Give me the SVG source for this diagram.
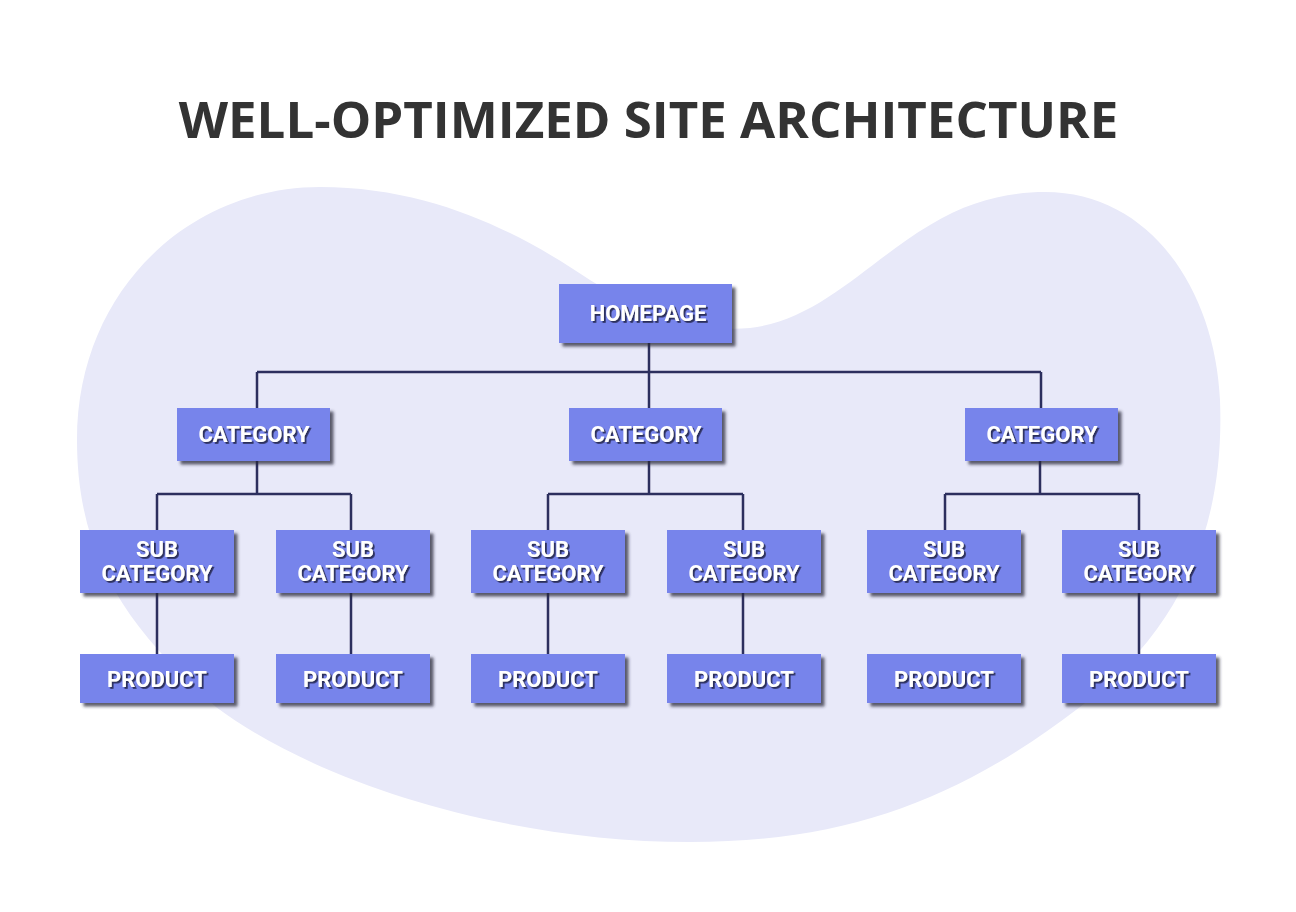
<svg xmlns="http://www.w3.org/2000/svg" width="1296" height="912" viewBox="0 0 1296 912">
  <defs>
    <filter id="boxShadow" x="-10%" y="-10%" width="130%" height="140%">
      <feDropShadow dx="3.5" dy="3.5" stdDeviation="1.5" flood-color="#2a2a3a" flood-opacity="0.75"/>
    </filter>
    <filter id="txtShadow" x="-10%" y="-20%" width="130%" height="150%">
      <feDropShadow dx="1.8" dy="1.8" stdDeviation="0.3" flood-color="#2b2e5c" flood-opacity="1"/>
    </filter>
  </defs>
  <style>
    .box { fill: #7784EB; filter: url(#boxShadow); }
    .lbl { font-family: Roboto, "Liberation Sans", sans-serif; font-weight: 700; font-size: 22px; fill: #ffffff; text-anchor: middle; filter: url(#txtShadow); }
    .conn { stroke: #2c2f5e; stroke-width: 2.5; fill: none; }
    .title { font-family: "Open Sans", "Liberation Sans", sans-serif; font-weight: 700; font-size: 51px; fill: #333333; text-anchor: middle; }
  </style>
  <rect x="0" y="0" width="1296" height="912" fill="#ffffff"/>
  <path id="blob" fill="#E8E9F9" d="M 77,440 C 77,290 190,187 320,187 C 440,187 530,240 590,280 C 650,318 700,332 750,328 C 820,320 870,260 930,225 C 970,200 1010,192 1045,192 C 1150,192 1215,290 1220,400 C 1225,530 1180,630 1080,707 C 961,798 850,842 690,842 C 510,842 320,785 216,707 C 130,630 77,560 77,440 Z"/>
  <text class="title" x="648.5" y="138">WELL-OPTIMIZED SITE ARCHITECTURE</text>

  <g id="connectors">
    <path class="conn" d="M649,343 V372 M257,372 H1041 M257,372 V408 M649,372 V408 M1041,372 V408"/>
    <path class="conn" d="M257,461 V494 M157,494 H351 M157,494 V530 M351,494 V530"/>
    <path class="conn" d="M649,461 V494 M548,494 H743 M548,494 V530 M743,494 V530"/>
    <path class="conn" d="M1040,461 V494 M945,494 H1139 M945,494 V530 M1139,494 V530"/>
    <path class="conn" d="M157,593 V654 M351,593 V654 M548,593 V654 M743,593 V654 M1139,593 V654"/>
  </g>

  <g id="homepage"><rect class="box" x="559" y="284" width="173" height="59"/><text class="lbl" x="648" y="321">HOMEPAGE</text></g>

  <g id="category-1"><rect class="box" x="177" y="408" width="153" height="53"/><text class="lbl" x="254" y="442">CATEGORY</text></g>
  <g id="category-2"><rect class="box" x="569" y="408" width="153" height="53"/><text class="lbl" x="646" y="442">CATEGORY</text></g>
  <g id="category-3"><rect class="box" x="965" y="408" width="153" height="53"/><text class="lbl" x="1042" y="442">CATEGORY</text></g>

  <g id="subcategory-1"><rect class="box" x="80" y="530" width="154" height="63"/><text class="lbl" x="157" y="557">SUB</text><text class="lbl" x="157" y="581">CATEGORY</text></g>
  <g id="subcategory-2"><rect class="box" x="276" y="530" width="154" height="63"/><text class="lbl" x="353" y="557">SUB</text><text class="lbl" x="353" y="581">CATEGORY</text></g>
  <g id="subcategory-3"><rect class="box" x="471" y="530" width="154" height="63"/><text class="lbl" x="548" y="557">SUB</text><text class="lbl" x="548" y="581">CATEGORY</text></g>
  <g id="subcategory-4"><rect class="box" x="667" y="530" width="154" height="63"/><text class="lbl" x="744" y="557">SUB</text><text class="lbl" x="744" y="581">CATEGORY</text></g>
  <g id="subcategory-5"><rect class="box" x="867" y="530" width="154" height="63"/><text class="lbl" x="944" y="557">SUB</text><text class="lbl" x="944" y="581">CATEGORY</text></g>
  <g id="subcategory-6"><rect class="box" x="1062" y="530" width="154" height="63"/><text class="lbl" x="1139" y="557">SUB</text><text class="lbl" x="1139" y="581">CATEGORY</text></g>

  <g id="product-1"><rect class="box" x="80" y="654" width="154" height="49"/><text class="lbl" x="157" y="687">PRODUCT</text></g>
  <g id="product-2"><rect class="box" x="276" y="654" width="154" height="49"/><text class="lbl" x="353" y="687">PRODUCT</text></g>
  <g id="product-3"><rect class="box" x="471" y="654" width="154" height="49"/><text class="lbl" x="548" y="687">PRODUCT</text></g>
  <g id="product-4"><rect class="box" x="667" y="654" width="154" height="49"/><text class="lbl" x="744" y="687">PRODUCT</text></g>
  <g id="product-5"><rect class="box" x="867" y="654" width="154" height="49"/><text class="lbl" x="944" y="687">PRODUCT</text></g>
  <g id="product-6"><rect class="box" x="1062" y="654" width="154" height="49"/><text class="lbl" x="1139" y="687">PRODUCT</text></g>
</svg>
